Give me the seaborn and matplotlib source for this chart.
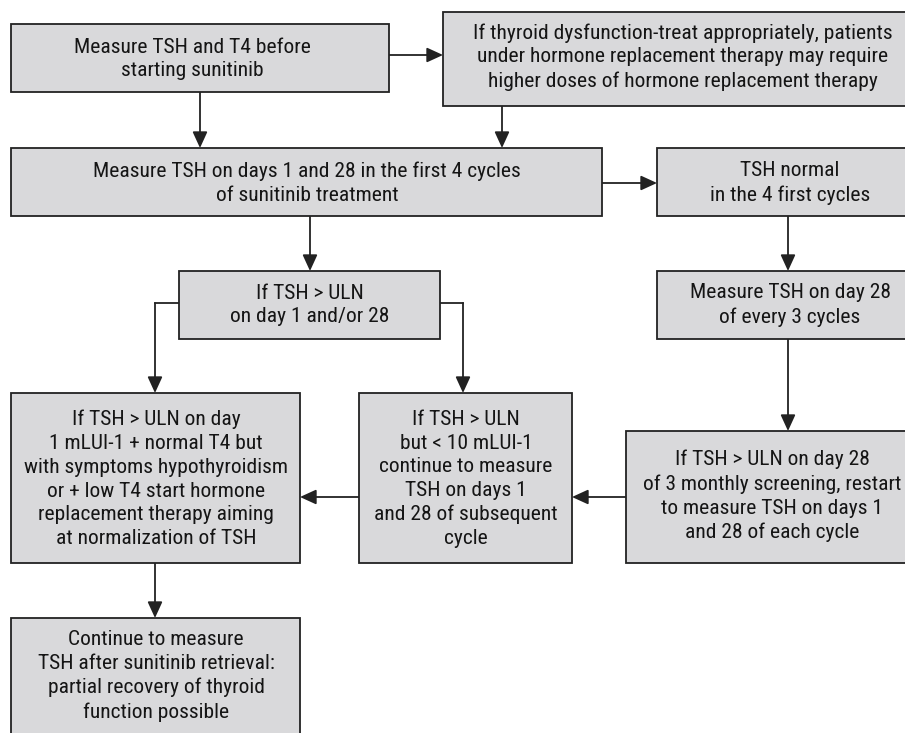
import matplotlib
matplotlib.use("Agg")
import matplotlib.pyplot as plt
import seaborn as sns
from matplotlib import font_manager
from matplotlib.patches import Rectangle

# Box texts of the flowchart
box_texts = [
    "Measure TSH and T4 before\nstarting sunitinib",
    "If thyroid dysfunction-treat appropriately, patients\nunder hormone replacement therapy may require\nhigher doses of hormone replacement therapy",
    "Measure TSH on days 1 and 28 in the first 4 cycles\nof sunitinib treatment",
    "TSH normal\nin the 4 first cycles",
    "If TSH > ULN\non day 1 and/or 28",
    "Measure TSH on day 28\nof every 3 cycles",
    "If TSH > ULN on day\n1 mLUI-1 + normal T4 but\nwith symptoms hypothyroidism\nor + low T4 start hormone\nreplacement therapy aiming\nat normalization of TSH",
    "If TSH > ULN\nbut < 10 mLUI-1\ncontinue to measure\nTSH on days 1\nand 28 of subsequent\ncycle",
    "If TSH > ULN on day 28\nof 3 monthly screening, restart\nto measure TSH on days 1\nand 28 of each cycle",
    "Continue to measure\nTSH after sunitinib retrieval:\npartial recovery of thyroid\nfunction possible",
]

# Connections between boxes: (kind, source, target, position)
edge_kind = ["h", "v", "v", "h", "v", "v", "v", "h", "h", "v", "elbow", "elbow"]
edge_src = [0, 0, 1, 2, 2, 3, 5, 8, 7, 6, 4, 4]
edge_dst = [1, 2, 2, 3, 4, 5, 8, 7, 6, 9, 6, 7]

# Layout in pixel space (x0, y0, x1, y1) and text anchors
W, H = 905, 733
rects = [
    (11, 24, 389, 92),
    (443, 12, 923, 106),
    (11, 148, 602, 216),
    (657, 148, 919, 216),
    (179, 271, 440, 339),
    (657, 271, 919, 339),
    (11, 393, 300, 563),
    (359, 393, 572, 563),
    (626, 431, 918, 563),
    (11, 618, 300, 760),
]
text_xy = [
    (192, 59), (683, 57), (307, 183), (790, 183), (310, 305),
    (790, 305), (156, 479), (466, 479), (772, 496), (156, 676),
]
edge_pos = [55, 200, 502, 183, 310, 788, 788, 497, 497, 155, (303, 155), (303, 463)]

sns.set_theme(style="white")
names = {f.name for f in font_manager.fontManager.ttflist}
prefs = ["Nimbus Sans Narrow", "Liberation Sans Narrow", "Roboto Condensed",
         "Archivo Narrow", "PT Sans Narrow", "Pragati Narrow",
         "Fira Sans Condensed", "IBM Plex Sans Condensed", "Barlow Semi Condensed"]
chosen = [p for p in prefs if p in names]
if chosen:
    family, stretch = [chosen[0], "DejaVu Sans"], "normal"
else:
    family, stretch = ["DejaVu Sans"], "condensed"
plt.rcParams["font.family"] = family

FILL = "#d9d9db"
EDGE = "#222222"
LW = 1.3

fig = plt.figure(figsize=(W / 100, H / 100), dpi=100)
ax = fig.add_axes([0, 0, 1, 1])
ax.set_xlim(0, W)
ax.set_ylim(H, 0)
ax.axis("off")

# calibrate font size so the widest line matches the reference (~417 px)
renderer = fig.canvas.get_renderer()
probe = ax.text(0, 0, "If thyroid dysfunction-treat appropriately, patients",
                fontsize=10, fontstretch=stretch)
w10 = probe.get_window_extent(renderer).width
fsize = min(15.5, 10 * 417 / w10)
probe.set_fontsize(fsize)
h1 = probe.get_window_extent(renderer).height
probe.set_text("A\nA")
h2 = probe.get_window_extent(renderer).height
probe.remove()
one = ax.text(0, 0, "A\nA", fontsize=fsize, fontstretch=stretch, linespacing=1.0)
step1 = one.get_window_extent(renderer).height
one.remove()
one = ax.text(0, 0, "A", fontsize=fsize, fontstretch=stretch)
base = one.get_window_extent(renderer).height
one.remove()
lspace = 25 / (step1 - base) if step1 > base else 1.2

for (x0, y0, x1, y1), txt, (tx, ty) in zip(rects, box_texts, text_xy):
    ax.add_patch(Rectangle((x0, y0), x1 - x0, y1 - y0, facecolor=FILL,
                           edgecolor=EDGE, lw=LW, zorder=2))
    ax.text(tx, ty, txt, ha="center", va="center", fontsize=fsize,
            fontstretch=stretch, color="#151515", linespacing=lspace,
            multialignment="center", zorder=3)

arrow_props = dict(arrowstyle="-|>,head_length=0.7,head_width=0.32", color=EDGE,
                   lw=LW, mutation_scale=14, shrinkA=0, shrinkB=0)


def arrow(p0, p1):
    ax.annotate("", xy=p1, xytext=p0, arrowprops=arrow_props, zorder=1)


for kind, s, d, pos in zip(edge_kind, edge_src, edge_dst, edge_pos):
    sx0, sy0, sx1, sy1 = rects[s]
    dx0, dy0, dx1, dy1 = rects[d]
    if kind == "h":
        if dx0 > sx1:
            arrow((sx1, pos), (dx0, pos))
        else:
            arrow((sx0, pos), (dx1, pos))
    elif kind == "v":
        arrow((pos, sy1), (pos, dy0))
    else:
        y, x = pos
        start = sx0 if x < sx0 else sx1
        ax.plot([start, x], [y, y], color=EDGE, lw=LW, zorder=1,
                solid_capstyle="projecting")
        arrow((x, y), (x, dy0))

fig.savefig("out.png", dpi=100)
